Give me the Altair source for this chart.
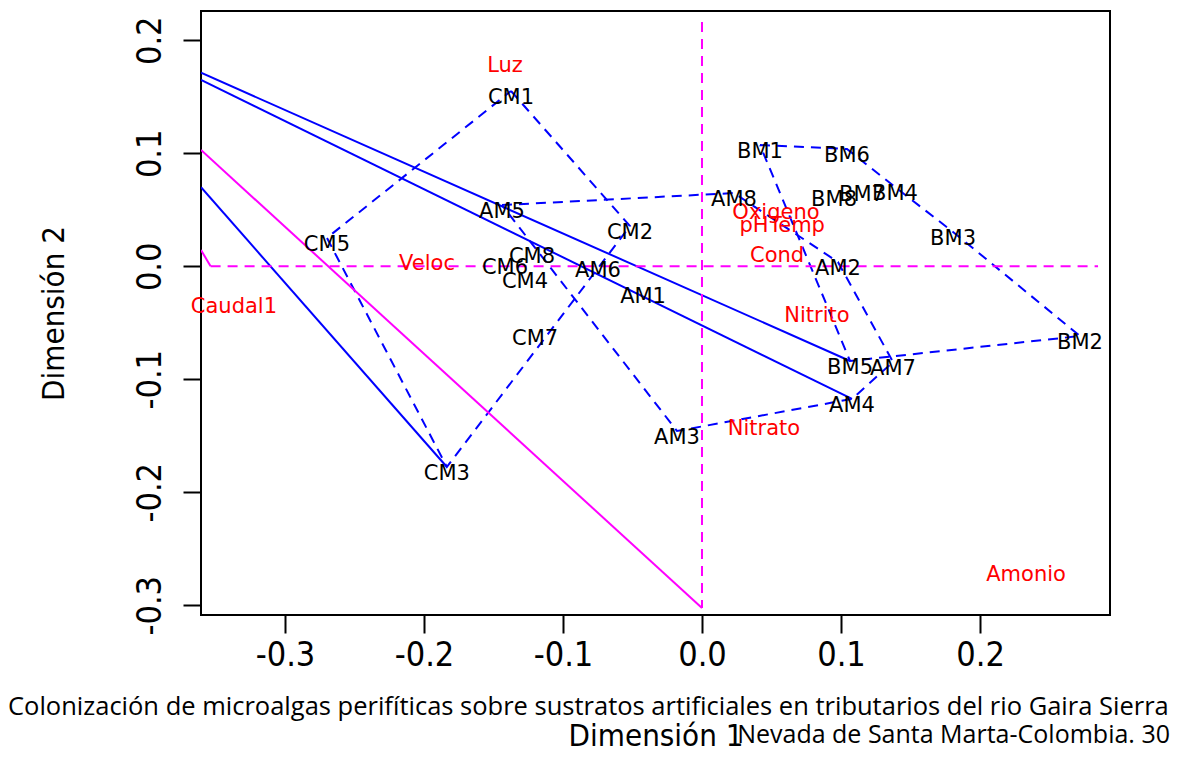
import altair as alt
import pandas as pd

# ---------------- data ----------------
sample_names = ["CM1", "CM2", "CM3", "CM4", "CM5", "CM6", "CM7", "CM8",
                "AM1", "AM2", "AM3", "AM4", "AM5", "AM6", "AM7", "AM8",
                "BM1", "BM2", "BM3", "BM4", "BM5", "BM6", "BM7", "BM8"]
sample_x = [-0.1374, -0.0518, -0.1835, -0.1273, -0.2698, -0.1417, -0.1201, -0.1223,
            -0.0424, 0.0978, -0.0180, 0.1079, -0.1439, -0.0748, 0.1374, 0.0230,
            0.0417, 0.2719, 0.1806, 0.1388, 0.1065, 0.1043, 0.1151, 0.0950]
sample_y = [0.1551, 0.0356, -0.1776, -0.0077, 0.0251, 0.0047, -0.0582, 0.0144,
            -0.0210, 0.0038, -0.1458, -0.1174, 0.0542, 0.0020, -0.0847, 0.0648,
            0.1073, -0.0617, 0.0304, 0.0702, -0.0838, 0.1038, 0.0693, 0.0649]

env_names = ["Luz", "Veloc", "Caudal1", "Oxigeno", "pH", "Temp", "Cond",
             "Nitrito", "Nitrato", "Amonio"]
env_x = [-0.1417, -0.1978, -0.3367, 0.0532, 0.0374, 0.0683, 0.0540,
         0.0827, 0.0446, 0.2331]
env_y = [0.1838, 0.0082, -0.0298, 0.0534, 0.0419, 0.0419, 0.0153,
         -0.0378, -0.1378, -0.2670]

# convex hulls of the three groups (vertex order)
hull_cm = ["CM1", "CM2", "CM3", "CM5"]
hull_am = ["AM5", "AM8", "AM2", "AM7", "AM4", "AM3"]
hull_bm = ["BM1", "BM6", "BM4", "BM3", "BM2", "BM5"]

# solid segments
seg_x1 = [-0.3604, -0.3604, -0.3604, -0.3604, -0.3604]
seg_y1 = [0.1713, 0.1649, 0.0699, 0.1029, 0.0144]
seg_x2 = [0.1065, 0.1079, -0.1835, 0.0000, -0.3535]
seg_y2 = [-0.0838, -0.1174, -0.1776, -0.3024, 0.0000]
seg_col = ["blue", "blue", "blue", "magenta", "magenta"]

# dashed reference cross
cross_h = [-0.3535, 0.2849]   # x range of y=0 line
cross_v = [0.2162, -0.3024]   # y range of x=0 line

x_ticks = [-0.3, -0.2, -0.1, 0.0, 0.1, 0.2]
y_ticks = [-0.3, -0.2, -0.1, 0.0, 0.1, 0.2]

footer1 = ("Colonización de microalgas perifíticas sobre sustratos artificiales "
           "en tributarios del rio Gaira Sierra")
footer2 = "Nevada de Santa Marta-Colombia. 30"

# ---------------- build tables ----------------
samples = pd.DataFrame({"name": sample_names, "x": sample_x, "y": sample_y})
env = pd.DataFrame({"name": env_names, "x": env_x, "y": env_y})

rows = []
for g, members in (("CM", hull_cm), ("AM", hull_am), ("BM", hull_bm)):
    for i, nm in enumerate(members + [members[0]]):
        k = sample_names.index(nm)
        rows.append({"group": g, "order": i, "x": sample_x[k], "y": sample_y[k]})
hulls = pd.DataFrame(rows)

segs = pd.DataFrame({"x": seg_x1, "y": seg_y1, "x2": seg_x2, "y2": seg_y2,
                     "col": seg_col})
hline = pd.DataFrame({"x": [cross_h[0]], "x2": [cross_h[1]], "y": [0.0]})
vline = pd.DataFrame({"x": [0.0], "y": [cross_v[0]], "y2": [cross_v[1]]})
foot = pd.DataFrame({"t1": [footer1], "t2": [footer2]})

AX_FONT = "Liberation Sans Narrow, DejaVu Sans Condensed, sans-serif"
LBL_FONT = "DejaVu Sans"
FOOT_FONT = "Open Sans"
W, H = 909, 604

xs = alt.Scale(domain=[-0.3604, 0.2935], nice=False, zero=False)
ys = alt.Scale(domain=[-0.3086, 0.2259], nice=False, zero=False)

lab_expr = "(datum.value < 0 ? '-' : '') + format(abs(datum.value), '.1f')"

x_axis = alt.Axis(values=x_ticks, labelExpr=lab_expr, grid=False, domain=False,
                  ticks=True, tickSize=18, tickWidth=2, tickColor="black",
                  labelFont=AX_FONT, labelFontSize=34, labelColor="black",
                  labelPadding=5, labelBaseline="top", labelFlush=False,
                  labelOverlap=False,
                  title="Dimensión 1", titleFont=AX_FONT, titleFontSize=31,
                  titleFontWeight="normal", titleColor="black",
                  titleX=W / 2, titleY=121, titleBaseline="middle",
                  titleAlign="center")
y_axis = alt.Axis(values=y_ticks, labelExpr=lab_expr, grid=False, domain=False,
                  ticks=True, tickSize=18, tickWidth=2, tickColor="black",
                  labelFont=AX_FONT, labelFontSize=34, labelColor="black",
                  labelAngle=270, labelAlign="center", labelBaseline="alphabetic",
                  labelPadding=23, labelFlush=False, labelOverlap=False,
                  title="Dimensión 2", titleFont=AX_FONT, titleFontSize=31,
                  titleFontWeight="normal", titleColor="black",
                  titleAngle=270, titleX=-147, titleY=302,
                  titleBaseline="middle", titleAlign="center")


def X(field="x"):
    return alt.X(f"{field}:Q", scale=xs, axis=x_axis)


def Y(field="y"):
    return alt.Y(f"{field}:Q", scale=ys, axis=y_axis)


dash = [10, 7]

hull_layer = alt.Chart(hulls).mark_line(
    color="#0000FF", strokeWidth=2, strokeDash=dash, clip=True
).encode(x=X(), y=Y(), detail="group:N", order="order:Q")

seg_layer = alt.Chart(segs).mark_rule(strokeWidth=2, clip=True).encode(
    x=X(), y=Y(), x2="x2:Q", y2="y2:Q",
    color=alt.Color("col:N", scale=alt.Scale(domain=["blue", "magenta"],
                                             range=["#0000FF", "#FF00FF"]),
                    legend=None),
)

h_layer = alt.Chart(hline).mark_rule(color="#FF00FF", strokeWidth=2,
                                     strokeDash=dash).encode(
    x=X(), x2="x2:Q", y=Y())
v_layer = alt.Chart(vline).mark_rule(color="#FF00FF", strokeWidth=2,
                                     strokeDash=dash).encode(
    x=X(), y=Y(), y2="y2:Q")

sample_text = alt.Chart(samples).mark_text(
    font=LBL_FONT, fontSize=21, color="black", dy=7,
    align="center", baseline="middle"
).encode(x=X(), y=Y(), text="name:N")

env_text = alt.Chart(env).mark_text(
    font=LBL_FONT, fontSize=21, color="#FF0000", dy=7,
    align="center", baseline="middle"
).encode(x=X(), y=Y(), text="name:N")

foot1 = alt.Chart(foot).mark_text(
    font=FOOT_FONT, fontSize=25.5, color="black", align="left", baseline="middle"
).encode(x=alt.value(-193), y=alt.value(696), text="t1:N")
foot2 = alt.Chart(foot).mark_text(
    font=FOOT_FONT, fontSize=25, color="black", align="right", baseline="middle"
).encode(x=alt.value(969), y=alt.value(724), text="t2:N")

chart = alt.layer(
    hull_layer, seg_layer, h_layer, v_layer, env_text, sample_text, foot1, foot2
).properties(
    width=W, height=H,
    autosize=alt.AutoSizeParams(type="none"),
    padding={"left": 193, "top": 3, "right": 63, "bottom": 136},
    background="white",
).configure_view(stroke="black", strokeWidth=2)

chart.save("out.html", embed_options={"renderer": "svg", "actions": False})
